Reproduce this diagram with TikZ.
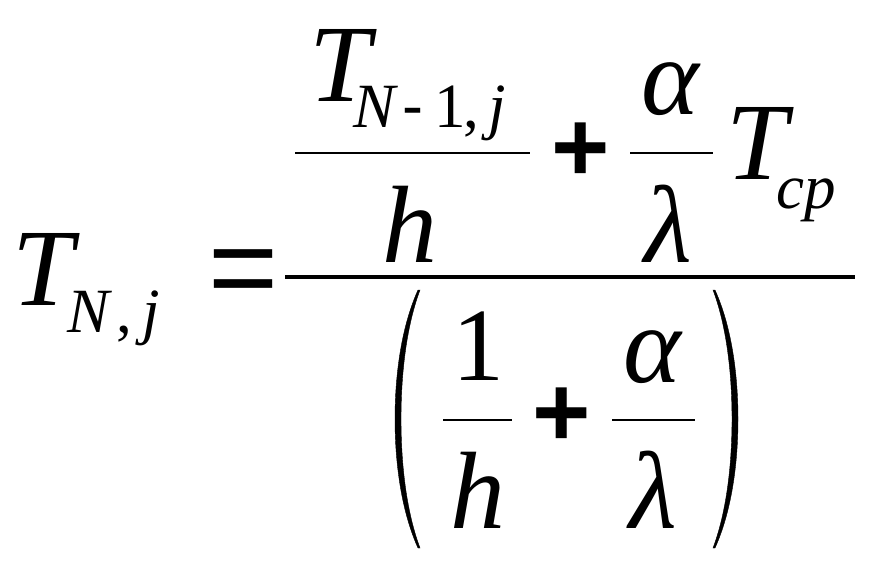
\documentclass[tikz,border=0pt]{standalone}
\usepackage{fontspec}
\setmainfont{Liberation Serif}
\newfontfamily\opfont{Liberation Sans}
\tikzset{
  every node/.style={inner sep=0pt, anchor=base},
  big/.style={font=\fontsize{110}{110}\selectfont\itshape},
  small/.style={font=\fontsize{63}{63}\selectfont\itshape},
  bigup/.style={font=\fontsize{104}{104}\selectfont},
  smallup/.style={font=\fontsize{63}{63}\selectfont},
  op/.style={font=\fontsize{100}{100}\selectfont\opfont\bfseries},
  eqsign/.style={font=\fontsize{120}{120}\selectfont\opfont},
  bar/.style={line width=2pt},
  mainbar/.style={line width=4.5pt},
  paren/.style={fill=black}
}
\begin{document}
\begin{tikzpicture}[x=1pt,y=-1pt]
  \useasboundingbox (0,0) rectangle (875,572);
  % left hand side
  \node[big] (T) at (43,305) {T};
  \node[small] (N) at (89,332) {N};
  \node[smallup] (c1) at (124,332) {,};
  \node[small] (j) at (151,332) {j};
  \node[eqsign] (eq) at (244,308) {=};
  % main fraction
  \coordinate (m1) at (285,277);
  \coordinate (m2) at (855,277);
  \draw[mainbar] (m1) -- (m2);
  % numerator
  \node[big] (Ta) at (340,102) {T};
  \node[small] (Na) at (375,128) {N};
  \node[font=\fontsize{63}{63}\selectfont\opfont] (ms) at (413,128) {-};
  \node[smallup] (one) at (450,128) {1};
  \node[smallup] (c2) at (471,128) {,};
  \node[small] (ja) at (497,128) {j};
  \coordinate (a1) at (295,153);
  \coordinate (a2) at (530,153);
  \draw[bar] (a1) -- (a2);
  \node[big] (ha) at (410,262) {h};
  \node[op] (pa) at (581,182) {+};
  \node[big] (ala) at (670,115) {α};
  \coordinate (b1) at (630,153);
  \coordinate (b2) at (713,153);
  \draw[bar] (b1) -- (b2);
  \node[big] (la) at (668,262) {λ};
  \node[big] (Tc) at (757,180) {T};
  \node[small] (cp) at (806,208) {cp};
  % denominator
  \draw[paren, shift={(418,0)}] (0,290) .. controls (-18,330) and (-23,380) .. (-23,419)
    .. controls (-23,458) and (-18,508) .. (0,548) -- (2,548)
    .. controls (-13,508) and (-17,458) .. (-17,419)
    .. controls (-17,380) and (-13,330) .. (2,290) -- cycle;
  \draw[paren, shift={(715,0)}, xscale=-1] (0,290) .. controls (-18,330) and (-23,380) .. (-23,419)
    .. controls (-23,458) and (-18,508) .. (0,548) -- (2,548)
    .. controls (-13,508) and (-17,458) .. (-17,419)
    .. controls (-17,380) and (-13,330) .. (2,290) -- cycle;
  \node[bigup] (oneb) at (478,380) {1};
  \coordinate (d1) at (443,420);
  \coordinate (d2) at (512,420);
  \draw[bar] (d1) -- (d2);
  \node[big] (hb) at (478,528) {h};
  \node[op] (pb) at (562,446) {+};
  \node[big] (alb) at (652,382) {α};
  \coordinate (e1) at (612,420);
  \coordinate (e2) at (695,420);
  \draw[bar] (e1) -- (e2);
  \node[big] (lb) at (653,528) {λ};
\end{tikzpicture}
\end{document}
